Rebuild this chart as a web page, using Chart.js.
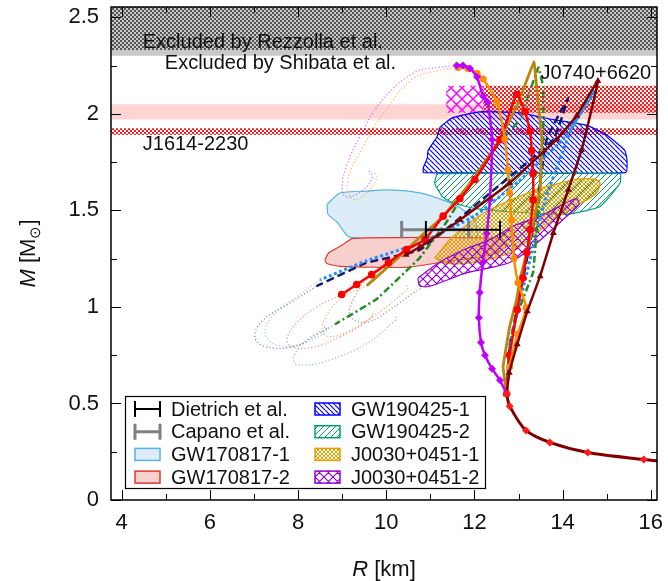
<!DOCTYPE html>
<html>
<head>
<meta charset="utf-8">
<script src="https://cdn.jsdelivr.net/npm/chart.js@4.4.1/dist/chart.umd.min.js"></script>
<style>
  html, body { margin: 0; padding: 0; background: #fff; }
</style>
</head>
<body>
<canvas id="mr" width="668" height="581"></canvas>
<script>
// ---- axes ----
const xRange = [3.76, 16.14];
const yRange = [0, 2.553];
const xTicks = [4, 6, 8, 10, 12, 14, 16];
const xMinor = [5, 7, 9, 11, 13, 15];
const yTicks = [0, 0.5, 1, 1.5, 2, 2.5];
const yMinor = [0.25, 0.75, 1.25, 1.75, 2.25];

// ---- horizontal bands (M ranges) and radius ranges ----
const bandR = [3.0, 17.0];
const shibataM = [2.30, 2.60];
const rezzollaM = [2.33, 2.60];
const j1614WideM = [1.97, 2.05];
const j1614NarrowM = [1.89, 1.925];
const j0740M = [2.005, 2.145];
const j0740RadiusA = [11.36, 12.2];
const j0740RadiusB = [12.2, 17.0];

// ---- error bars at M = 1.4 ----
const dietrichR = [10.9, 12.58];
const capanoR = [10.35, 11.87];
const barM = 1.40;

// ---- observational regions, [R km, M Msun] ----
const gw170817a = [[8.66,1.53],[8.95,1.59],[9.56,1.60],[10.08,1.606],[10.76,1.59],[11.38,1.545],[11.7,1.51],[12.0,1.45],[12.05,1.36],[9.18,1.36],[8.88,1.44],[8.68,1.48],[8.66,1.53]];
const gw170817b = [[8.61,1.245],[8.7,1.28],[9.0,1.32],[9.25,1.355],[12.6,1.355],[12.75,1.32],[12.4,1.27],[11.22,1.23],[10.47,1.205],[8.95,1.21],[8.65,1.225],[8.61,1.245]];
const gw190425a = [[10.84,1.695],[10.84,1.72],[10.93,1.77],[10.95,1.81],[11.15,1.88],[11.22,1.93],[11.51,1.98],[12.12,2.01],[13.03,2.005],[13.78,1.97],[14.55,1.94],[15.0,1.89],[15.41,1.81],[15.46,1.76],[15.43,1.695],[10.84,1.695]];
const gw190425b = [[11.15,1.69],[15.3,1.69],[15.3,1.64],[14.85,1.52],[14.1,1.48],[13.0,1.49],[12.0,1.51],[11.5,1.54],[11.28,1.57],[11.1,1.64],[11.15,1.69]];
const j0030a = [[11.1,1.254],[11.52,1.366],[12.28,1.495],[13.41,1.607],[14.0,1.645],[14.39,1.663],[14.75,1.66],[14.85,1.642],[14.77,1.59],[14.3,1.52],[13.79,1.452],[13.3,1.36],[12.81,1.28],[11.9,1.228],[11.3,1.228],[11.1,1.254]];
const j0030b = [[10.72,1.15],[11.2,1.23],[11.8,1.30],[12.3,1.343],[12.9,1.42],[13.5,1.47],[14.0,1.53],[14.31,1.56],[14.37,1.53],[14.0,1.45],[13.33,1.314],[12.8,1.23],[11.82,1.176],[10.99,1.107],[10.76,1.11],[10.72,1.15]];

// ---- mass-radius curves ----
const tail = [[16.3,0.2],[15.84,0.21],[14.57,0.246],[13.71,0.298],[13.17,0.36],[12.8,0.486],[12.73,0.55]];
const purpleEos = [[12.73,0.55],[12.58,0.62],[12.4,0.68],[12.24,0.75],[12.15,0.815],[12.1,0.944],[12.12,1.074],[12.19,1.23],[12.28,1.38],[12.35,1.555],[12.4,1.866],[12.3,2.06],[12.2,2.09],[12.06,2.19],[11.9,2.235],[11.74,2.25],[11.6,2.25]];
const orangeEos = [[12.73,0.55],[12.8,0.69],[12.98,0.86],[13.17,0.995],[12.99,1.125],[12.9,1.25],[12.84,1.45],[12.8,1.59],[12.76,1.71],[12.69,1.87],[12.51,2.06],[12.2,2.18],[12.06,2.21],[11.85,2.235],[11.63,2.24]];
const redEos = [[12.73,0.55],[12.8,0.75],[12.97,0.985],[13.1,1.15],[13.19,1.28],[13.26,1.40],[13.33,1.555],[13.33,1.69],[13.3,1.81],[13.26,1.91],[13.15,2.01],[12.96,2.10],[12.58,1.866],[12.01,1.66],[11.67,1.56],[11.29,1.47],[10.88,1.35],[10.46,1.297],[10.05,1.228],[9.67,1.167],[9.33,1.116],[8.99,1.064]];
const goldEos = [[12.73,0.55],[12.65,0.69],[12.8,0.9],[12.96,1.04],[13.03,1.14],[13.26,1.35],[13.49,1.61],[13.53,1.866],[13.44,2.07],[13.35,2.27],[13.0,2.06],[12.58,1.87],[12.0,1.67],[11.3,1.47],[10.76,1.36],[10.2,1.24],[9.56,1.11]];
const greenEos = [[12.73,0.55],[12.78,0.75],[12.95,0.95],[13.33,1.18],[13.45,1.5],[13.56,1.866],[13.56,2.14],[13.45,2.24],[13.03,1.97],[12.63,1.866],[12.0,1.68],[11.4,1.45],[10.76,1.254],[9.78,1.04],[8.84,0.91]];
const navyEos = [[12.73,0.55],[12.8,0.8],[13.1,1.14],[13.4,1.5],[13.64,1.87],[14.12,2.08],[13.79,1.866],[12.3,1.58],[10.76,1.295],[9.55,1.228],[8.42,1.107]];
const blueEos = [[12.73,0.55],[12.8,0.8],[13.15,1.14],[13.6,1.55],[14.2,1.92],[14.73,2.12],[14.4,2.0],[14.0,1.866],[13.0,1.65],[12.0,1.47],[10.76,1.33],[9.56,1.24],[8.5,1.14]];
const maroonEos = [[12.73,0.55],[12.79,0.659],[12.97,0.806],[13.2,0.978],[13.49,1.159],[13.79,1.383],[14.13,1.607],[14.43,1.813],[14.8,2.17],[14.32,1.99],[13.86,1.866],[12.8,1.642],[11.67,1.45],[10.76,1.31],[10.45,1.27]];

// dotted continuations (unstable branches)
const purpleArc = [[11.6,2.25],[11.2,2.24],[10.61,2.211],[9.86,2.056],[9.4,1.88],[9.1,1.73],[9.0,1.61],[9.1,1.57],[9.45,1.60],[9.68,1.67],[9.6,1.71]];
const orangeArc = [[11.63,2.24],[11.2,2.225],[10.6,2.18],[9.93,2.0],[9.48,1.83],[9.13,1.66],[9.23,1.56],[9.56,1.59],[9.79,1.67],[9.7,1.70]];
const redLoop = [[8.99,1.064],[8.43,1.0],[7.98,0.92],[7.75,0.83],[7.9,0.79],[8.43,0.795],[8.95,0.845],[9.4,0.9],[9.68,0.95],[9.7,0.97]];
const goldLoop = [[9.56,1.11],[8.95,1.04],[8.57,0.92],[8.6,0.855],[8.95,0.855],[9.7,0.95],[10.38,1.07],[10.5,1.10],[10.45,1.11]];
const greenLoop = [[8.84,0.91],[8.2,0.83],[7.9,0.74],[8.0,0.70],[8.65,0.72],[9.56,0.81],[10.2,0.93],[10.24,0.95]];
const navyLoop = [[8.42,1.107],[7.82,1.02],[7.2,0.93],[7.02,0.845],[7.25,0.795],[7.9,0.795],[8.5,0.865],[8.65,0.89],[8.55,0.9]];
const blueLoop = [[8.5,1.14],[7.95,1.05],[7.45,0.96],[7.25,0.87],[7.45,0.81],[7.95,0.80],[8.5,0.85],[8.75,0.9]];
const maroonLoop = [[10.45,1.27],[9.7,1.18],[9.18,1.0],[9.25,0.935],[9.63,0.925],[10.08,0.985],[10.6,1.07],[10.8,1.10],[10.75,1.11]];

// ---- text labels ----
const notes = [
  {text: 'Excluded by Rezzolla et al.', r: 4.48, m: 2.342},
  {text: 'Excluded by Shibata et al.', r: 4.98, m: 2.233},
  {text: 'J1614-2230', r: 4.48, m: 1.815},
  {text: 'J0740+6620', r: 13.5, m: 2.18}
];

const FONT = "'Liberation Sans', Arial, Helvetica, sans-serif";
Chart.defaults.font.family = FONT;
Chart.defaults.color = '#000';

// ---- fill patterns ----
function makePattern(size, draw) {
  const c = document.createElement('canvas');
  c.width = size; c.height = size;
  const g = c.getContext('2d');
  draw(g, size);
  return g.createPattern(c, 'repeat');
}
const hatch = (color, size, dirs, lw) => makePattern(size, (g, s) => {
  g.strokeStyle = color; g.lineWidth = lw;
  g.beginPath();
  for (const d of dirs) {
    for (let k = -1; k <= 1; k++) {
      if (d === '\\') { g.moveTo(k * s, 0); g.lineTo(k * s + s, s); }
      else { g.moveTo(k * s, s); g.lineTo(k * s + s, 0); }
    }
  }
  g.stroke();
});
const checker = (color, cell) => makePattern(cell * 2, g => {
  g.fillStyle = color;
  g.fillRect(0, 0, cell, cell);
  g.fillRect(cell, cell, cell, cell);
});

const styles = {
  gw170817a: {fill: '#dcedf8', line: '#56b4e9'},
  gw170817b: {fill: '#f8d0ce', line: '#e2372c'},
  gw190425a: {fill: hatch('#0000ff', 5, ['\\'], 1.2), line: '#0000ff'},
  gw190425b: {fill: hatch('#009e73', 6, ['/'], 1), line: '#009e73'},
  j0030a: {fill: hatch('#e69f00', 4, ['\\', '/'], 1), line: '#e69f00'},
  j0030b: {fill: hatch('#9400d3', 9, ['\\', '/'], 1.2), line: '#9400d3'}
};

// ---- datasets ----
const P = pts => pts.map(([x, y]) => ({x, y}));
const rect = (r, m) => [[r[0], m[0]], [r[1], m[0]], [r[1], m[1]], [r[0], m[1]], [r[0], m[0]]];
const datasets = [];

function addArea(poly, fillStyle, border, tension) {
  datasets.push({
    data: P(poly), fill: 'shape', backgroundColor: fillStyle,
    borderColor: border || 'rgba(0,0,0,0)', borderWidth: border ? 1.2 : 0,
    pointRadius: 0, tension: tension || 0
  });
}
function addCurve(pts, color, o = {}) {
  datasets.push({
    data: P(pts), fill: false, borderColor: color, backgroundColor: color,
    borderWidth: o.width || 2.5, borderDash: o.dash || [],
    pointRadius: o.marker ? (o.size || 3.5) : 0, pointStyle: o.marker || 'circle',
    pointBorderWidth: 0, tension: o.tension ?? 0.2
  });
}

// bands, bottom layer
addArea(rect(bandR, shibataM), '#c8c8c8');
addArea(rect(bandR, rezzollaM), checker('#555555', 2));
addArea(rect(bandR, j1614WideM), '#ffd4d4');
addArea(rect(bandR, j1614NarrowM), checker('#ff1a1a', 2));
addArea(rect(j0740RadiusA, j0740M), hatch('#ff00ff', 11, ['\\', '/'], 1.5));
addArea(rect(j0740RadiusB, j0740M), checker('#ff1a1a', 2));

// observational regions
addArea(gw170817a, styles.gw170817a.fill, styles.gw170817a.line, 0.2);
addArea(gw170817b, styles.gw170817b.fill, styles.gw170817b.line, 0.2);
addArea(gw190425a, styles.gw190425a.fill, styles.gw190425a.line, 0.15);
addArea(gw190425b, styles.gw190425b.fill, styles.gw190425b.line, 0.15);
addArea(j0030a, styles.j0030a.fill, styles.j0030a.line, 0.3);
addArea(j0030b, styles.j0030b.fill, styles.j0030b.line, 0.3);

// dotted unstable continuations
const dotted = {width: 1.3, dash: [1.2, 2.2], tension: 0.4};
addCurve(purpleArc, 'rgba(192,0,255,0.55)', dotted);
addCurve(orangeArc, 'rgba(255,140,0,0.6)', dotted);
addCurve(redLoop, 'rgba(255,0,0,0.45)', dotted);
addCurve(goldLoop, 'rgba(184,134,11,0.55)', dotted);
addCurve(greenLoop, 'rgba(34,139,34,0.45)', dotted);
addCurve(navyLoop, 'rgba(25,25,112,0.5)', dotted);
addCurve(blueLoop, 'rgba(30,144,255,0.45)', dotted);
addCurve(maroonLoop, 'rgba(128,0,0,0.45)', dotted);

// equations of state
addCurve(navyEos, '#191970', {dash: [8, 4], tension: 0.1});
addCurve(blueEos, '#1e90ff', {dash: [3, 2.5], width: 3, tension: 0.1});
addCurve(greenEos, '#228b22', {dash: [7, 3, 2, 3], tension: 0.05});
addCurve(goldEos, '#b8860b', {width: 2.8, tension: 0.05});
addCurve(redEos, '#ff0000', {marker: 'circle', size: 3.8, tension: 0.15});
addCurve(orangeEos, '#ff8c00', {marker: 'circle', size: 3.5, tension: 0.2});
addCurve(purpleEos, '#c000ff', {marker: 'rectRot', size: 4, tension: 0.2});
addCurve(maroonEos, '#800000', {marker: 'triangle', size: 4, tension: 0.1});
addCurve(tail, '#800000', {marker: 'rectRot', size: 4, width: 3, tension: 0.3});
datasets[datasets.length - 1].pointBackgroundColor = '#ff1a1a';

// error bars
const capHalf = 0.045;
function addBar(r, color, width) {
  addCurve([[r[0], barM], [r[1], barM]], color, {width, tension: 0});
  addCurve([[r[0], barM - capHalf], [r[0], barM + capHalf]], color, {width, tension: 0});
  addCurve([[r[1], barM - capHalf], [r[1], barM + capHalf]], color, {width, tension: 0});
}
addBar(capanoR, '#808080', 3);
addBar(dietrichR, '#000000', 2);

// later datasets on top
datasets.forEach((d, i) => { d.order = datasets.length - i; });

// ---- legend entries ----
const legendItems = [
  {label: 'Dietrich et al.', bar: '#000000', width: 2},
  {label: 'Capano et al.', bar: '#808080', width: 3},
  {label: 'GW170817-1', box: styles.gw170817a},
  {label: 'GW170817-2', box: styles.gw170817b},
  {label: 'GW190425-1', box: styles.gw190425a},
  {label: 'GW190425-2', box: styles.gw190425b},
  {label: 'J0030+0451-1', box: styles.j0030a},
  {label: 'J0030+0451-2', box: styles.j0030b}
];

const decorations = {
  id: 'decorations',
  afterDatasetsDraw(chart) {
    const {ctx, chartArea: a, scales: {x, y}} = chart;
    ctx.save();

    // annotations
    ctx.fillStyle = '#111';
    ctx.font = '20px ' + FONT;
    ctx.textBaseline = 'alphabetic';
    ctx.textAlign = 'left';
    notes.forEach(n => ctx.fillText(n.text, x.getPixelForValue(n.r), y.getPixelForValue(n.m)));

    // inward ticks on all four sides
    ctx.strokeStyle = '#000';
    ctx.lineWidth = 1;
    ctx.beginPath();
    const xt = (v, len) => {
      const px = Math.round(x.getPixelForValue(v)) + 0.5;
      ctx.moveTo(px, a.bottom); ctx.lineTo(px, a.bottom - len);
      ctx.moveTo(px, a.top); ctx.lineTo(px, a.top + len);
    };
    const yt = (v, len) => {
      const py = Math.round(y.getPixelForValue(v)) + 0.5;
      ctx.moveTo(a.left, py); ctx.lineTo(a.left + len, py);
      ctx.moveTo(a.right, py); ctx.lineTo(a.right - len, py);
    };
    xTicks.forEach(v => xt(v, 10));
    xMinor.forEach(v => xt(v, 6));
    yTicks.forEach(v => yt(v, 10));
    yMinor.forEach(v => yt(v, 6));
    ctx.stroke();

    ctx.lineWidth = 1.5;
    ctx.strokeRect(a.left, a.top, a.right - a.left, a.bottom - a.top);

    // legend box
    const bx = a.left + 14, by = a.bottom - 104, bw = 360, bh = 92;
    ctx.fillStyle = '#fff';
    ctx.fillRect(bx, by, bw, bh);
    ctx.lineWidth = 1.2;
    ctx.strokeStyle = '#000';
    ctx.strokeRect(bx + 0.5, by + 0.5, bw, bh);
    ctx.font = '20px ' + FONT;
    ctx.textBaseline = 'middle';
    legendItems.forEach((it, i) => {
      const col = Math.floor(i / 4), row = i % 4;
      const sx = bx + (col ? 190 : 10), ry = by + 13 + row * 22.7;
      if (it.bar) {
        ctx.strokeStyle = it.bar; ctx.lineWidth = it.width;
        ctx.beginPath();
        ctx.moveTo(sx, ry); ctx.lineTo(sx + 25, ry);
        ctx.moveTo(sx, ry - 8); ctx.lineTo(sx, ry + 8);
        ctx.moveTo(sx + 25, ry - 8); ctx.lineTo(sx + 25, ry + 8);
        ctx.stroke();
      } else {
        ctx.fillStyle = it.box.fill;
        ctx.fillRect(sx, ry - 6, 25, 12);
        ctx.strokeStyle = it.box.line; ctx.lineWidth = 1.5;
        ctx.strokeRect(sx, ry - 6, 25, 12);
      }
      ctx.fillStyle = '#111';
      ctx.fillText(it.label, sx + 36, ry + 1);
    });

    // axis titles
    ctx.fillStyle = '#111';
    ctx.textBaseline = 'alphabetic';
    const italic = 'italic 22px ' + FONT, normal = '22px ' + FONT, small = '15px ' + FONT;
    ctx.font = italic;
    const wR = ctx.measureText('R').width;
    ctx.font = normal;
    const wK = ctx.measureText(' [km]').width;
    let tx = (a.left + a.right) / 2 - (wR + wK) / 2;
    ctx.font = italic; ctx.fillText('R', tx, 576);
    ctx.font = normal; ctx.fillText(' [km]', tx + wR, 576);

    ctx.translate(35, (a.top + a.bottom) / 2);
    ctx.rotate(-Math.PI / 2);
    const parts = [['M', italic, 0], [' [M', normal, 0], ['\u2299', small, 5], [']', normal, 0]];
    let total = 0;
    parts.forEach(p => { ctx.font = p[1]; p.push(ctx.measureText(p[0]).width); total += p[3]; });
    let px = -total / 2;
    parts.forEach(p => { ctx.font = p[1]; ctx.fillText(p[0], px, p[2]); px += p[3]; });

    ctx.restore();
  }
};

new Chart(document.getElementById('mr'), {
  type: 'line',
  data: {datasets},
  options: {
    responsive: false,
    animation: false,
    events: [],
    layout: {padding: {top: 7, right: 11, left: 0, bottom: 0}},
    plugins: {legend: {display: false}, tooltip: {enabled: false}},
    scales: {
      x: {
        type: 'linear', min: xRange[0], max: xRange[1],
        afterBuildTicks: s => { s.ticks = xTicks.map(v => ({value: v})); },
        afterFit: s => { s.height = 81; s.paddingLeft = 0; s.paddingRight = 0; },
        grid: {display: false, drawTicks: false},
        border: {display: false},
        ticks: {font: {size: 22}, color: '#111', padding: 10, maxRotation: 0, autoSkip: false, callback: v => String(v)}
      },
      y: {
        type: 'linear', min: yRange[0], max: yRange[1],
        afterBuildTicks: s => { s.ticks = yTicks.map(v => ({value: v})); },
        afterFit: s => { s.width = 111; s.paddingTop = 0; s.paddingBottom = 0; },
        grid: {display: false, drawTicks: false},
        border: {display: false},
        ticks: {font: {size: 22}, color: '#111', padding: 12, autoSkip: false, callback: v => String(v)}
      }
    }
  },
  plugins: [decorations]
});
</script>
</body>
</html>
